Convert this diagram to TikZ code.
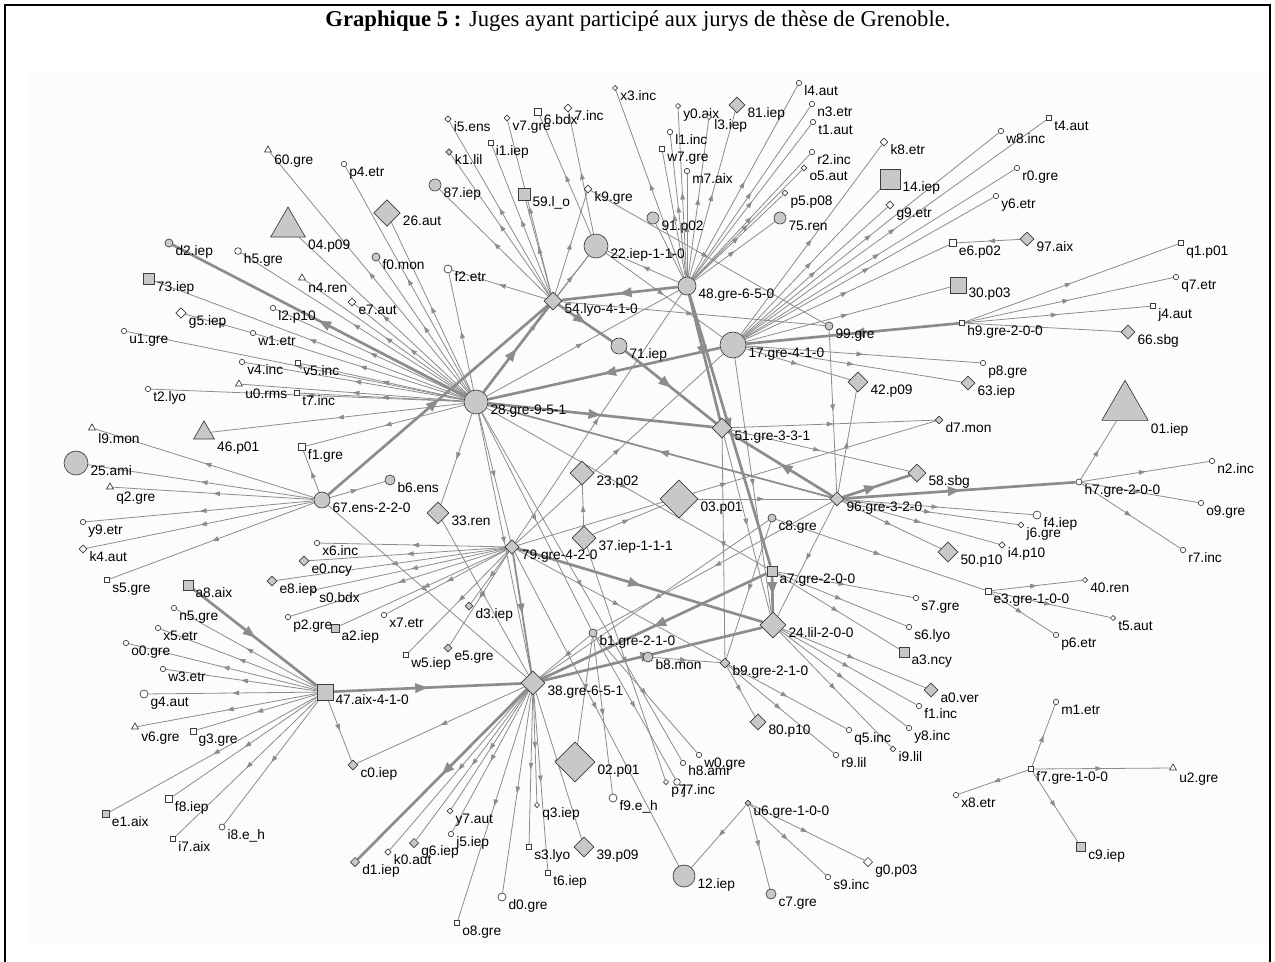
\documentclass[tikz,border=0pt]{standalone}
\usepackage{fontspec}
\setmainfont{Liberation Serif}
\setsansfont{Liberation Sans}
\usetikzlibrary{shapes.geometric,arrows.meta,decorations.markings}
\definecolor{ng}{RGB}{200,200,200}
\definecolor{ol}{RGB}{60,60,60}
\definecolor{ec}{RGB}{140,140,140}
\pgfdeclarelayer{back}
\pgfdeclarelayer{bg}
\pgfsetlayers{back,bg,main}

\begin{document}
\begin{tikzpicture}[x=0.75pt,y=-0.75pt,
  mk/.style={draw=ol,line width=0.5pt,inner sep=0pt,minimum size=#1},
  gc/.style={mk=#1,circle,fill=ng}, wc/.style={mk=#1,circle,fill=white},
  gd/.style={mk=#1,diamond,fill=ng}, wd/.style={mk=#1,diamond,fill=white},
  gs/.style={mk=#1,rectangle,fill=ng}, ws/.style={mk=#1,rectangle,fill=white},
  gt/.style={mk=#1,regular polygon,regular polygon sides=3,fill=ng},
  wt/.style={mk=#1,regular polygon,regular polygon sides=3,fill=white},
  lab/.style={font=\sffamily\fontsize{10.3}{12}\selectfont,inner sep=0pt,anchor=north west,xshift=1.5pt,yshift=-2pt},
  ed/.style={draw=ec,line width=0.6pt,postaction={decorate},
    decoration={markings,mark=at position 0.5 with {\arrow[ec]{Triangle[length=5pt,width=3.5pt]}}}},
  edt/.style={ed,line width=2pt,
    decoration={markings,mark=at position 0.5 with {\arrow[ec]{Triangle[length=9pt,width=7pt]}}}},
  edm/.style={ed,line width=1.3pt,
    decoration={markings,mark=at position 0.5 with {\arrow[ec]{Triangle[length=7pt,width=5pt]}}}}]
\clip (0,0) rectangle (1275,961);
\begin{pgfonlayer}{back}
\fill[white] (0,0) rectangle (1275,961);
\fill[black!1] (28,72) rectangle (1267,943);
\draw[line width=1.5pt] (5,5) rectangle (1270,990);
\end{pgfonlayer}
\node[font=\fontsize{17}{20}\selectfont] (titre) at (638,21) {\textbf{Graphique 5 :} Juges ayant participé aux jurys de thèse de Grenoble.};

% juges
\node[wt=6pt,label={[lab]-30:60.gre}] (j60) at (268,150) {};
\node[gt=30pt,label={[lab]-30:04.p09}] (j04) at (288,227) {};
\node[gc=6pt,label={[lab]east:d2.iep}] (jd2) at (169,243) {};
\node[wc=5pt,label={[lab]east:h5.gre}] (jh5) at (238,251) {};
\node[wt=6pt,label={[lab]-30:n4.ren}] (jn4) at (302,278) {};
\node[gs=8pt,label={[lab]east:73.iep}] (j73) at (149,279) {};
\node[wc=4pt,label={[lab]east:l2.p10}] (jl2) at (273,308) {};
\node[wd=8pt,label={[lab]east:g5.iep}] (jg5) at (181,313) {};
\node[wc=4pt,label={[lab]east:w1.etr}] (jw1) at (253,333) {};
\node[wc=4pt,label={[lab]east:u1.gre}] (ju1) at (124,331) {};
\node[wc=4pt,label={[lab]east:p4.etr}] (jp4) at (344,164) {};
\node[gd=20pt,label={[lab]east:26.aut}] (j26) at (387,213) {};
\node[gc=6pt,label={[lab]east:f0.mon}] (jf0) at (376,257) {};
\node[wd=6pt,label={[lab]east:e7.aut}] (je7) at (352,302) {};
\node[gc=9pt,label={[lab]east:87.iep}] (j87) at (435,185) {};
\node[wd=5pt,label={[lab]east:i5.ens}] (ji5) at (448,119) {};
\node[gd=5pt,label={[lab]east:k1.lil}] (jk1) at (449,152) {};
\node[ws=3.5pt,label={[lab]east:i1.iep}] (ji1) at (491,143) {};
\node[wd=4.5pt,label={[lab]east:v7.gre}] (jv7) at (507,118) {};
\node[ws=5pt,label={[lab]east:6.bdx}] (j6) at (538,112) {};
\node[wd=6pt,label={[lab]east:7.inc}] (j7) at (568,108) {};
\node[wd=4pt,label={[lab]east:x3.inc}] (jx3) at (615,88) {};
\node[gs=9pt,label={[lab]east:59.l\_o}] (j59) at (524,194) {};
\node[wd=6pt,label={[lab]east:k9.gre}] (jk9) at (588,189) {};
\node[wc=6pt,label={[lab]east:f2.etr}] (jf2) at (448,269) {};
\node[gc=18pt,label={[lab]east:22.iep-1-1-0}] (j22) at (596,246) {};
\node[gd=13.5pt,label={[lab]east:54.lyo-4-1-0}] (j54) at (553,301) {};
\node[gc=12pt,label={[lab]east:71.iep}] (j71) at (619,346) {};
\node[gc=9pt,label={[lab]east:91.p02}] (j91) at (653,218) {};
\node[wd=4pt,label={[lab]east:y0.aix}] (jy0) at (678,106) {};
\node[wd=4pt,label={[lab]east:l3.iep}] (jl3) at (709,117) {};
\node[gd=12pt,label={[lab]east:81.iep}] (j81) at (737,105) {};
\node[wc=4pt,label={[lab]east:l4.aut}] (jl4) at (799,83) {};
\node[wc=4pt,label={[lab]east:n3.etr}] (jn3) at (812,104) {};
\node[wc=4pt,label={[lab]east:t1.aut}] (jt1) at (813,122) {};
\node[wc=4pt,label={[lab]east:l1.inc}] (jl1) at (670,132) {};
\node[ws=4pt,label={[lab]east:w7.gre}] (jw7) at (662,149) {};
\node[wc=4pt,label={[lab]east:m7.aix}] (jm7) at (687,171) {};
\node[wc=4pt,label={[lab]east:r2.inc}] (jr2) at (812,152) {};
\node[wd=4.5pt,label={[lab]east:o5.aut}] (jo5) at (804,168) {};
\node[wd=4.5pt,label={[lab]east:p5.p08}] (jp5) at (785,193) {};
\node[gc=9pt,label={[lab]east:75.ren}] (j75) at (780,218) {};
\node[wd=6pt,label={[lab]east:k8.etr}] (jk8) at (884,142) {};
\node[gs=15pt,label={[lab]east:14.iep}] (j14) at (890,179) {};
\node[wd=6pt,label={[lab]east:g9.etr}] (jg9) at (890,205) {};
\node[gc=13.5pt,label={[lab]east:48.gre-6-5-0}] (j48) at (687,286) {};
\node[gc=6pt,label={[lab]east:99.gre}] (j99) at (829,326) {};
\node[gc=19.5pt,label={[lab]east:17.gre-4-1-0}] (j17) at (733,345) {};
\node[ws=5pt,label={[lab]east:e6.p02}] (je6) at (953,243) {};
\node[gs=12pt,label={[lab]east:30.p03}] (j30) at (958,285) {};
\node[ws=4pt,label={[lab]east:h9.gre-2-0-0}] (jh9) at (962,323) {};
\node[ws=4pt,label={[lab]east:t4.aut}] (jt4) at (1049,118) {};
\node[wc=4pt,label={[lab]east:w8.inc}] (jw8) at (1001,131) {};
\node[wc=4pt,label={[lab]east:r0.gre}] (jr0) at (1017,168) {};
\node[wc=4pt,label={[lab]east:y6.etr}] (jy6) at (996,196) {};
\node[gd=10.5pt,label={[lab]east:97.aix}] (j97) at (1027,239) {};
\node[ws=4pt,label={[lab]east:q1.p01}] (jq1) at (1181,243) {};
\node[wc=4pt,label={[lab]east:q7.etr}] (jq7) at (1176,277) {};
\node[ws=4pt,label={[lab]east:j4.aut}] (jj4) at (1153,306) {};
\node[gd=10.5pt,label={[lab]east:66.sbg}] (j66) at (1128,332) {};
\node[wc=4pt,label={[lab]east:p8.gre}] (jp8) at (983,363) {};
\node[gd=10.5pt,label={[lab]east:63.iep}] (j63) at (968,383) {};
\node[gd=15pt,label={[lab]east:42.p09}] (j42) at (858,382) {};
\node[gd=6pt,label={[lab]east:d7.mon}] (jd7) at (939,420) {};
\node[gt=40pt,label={[lab]-30:01.iep}] (j01) at (1125,407) {};
\node[gd=15pt,label={[lab]east:51.gre-3-3-1}] (j51) at (722,428) {};
\node[gd=13.5pt,label={[lab]east:58.sbg}] (j58) at (917,473) {};
\node[gd=10.5pt,label={[lab]east:96.gre-3-2-0}] (j96) at (837,499) {};
\node[gd=28.5pt,label={[lab]east:03.p01}] (j03) at (679,499) {};
\node[wc=4.5pt,label={[lab]east:h7.gre-2-0-0}] (jh7) at (1079,482) {};
\node[wc=4pt,label={[lab]east:n2.inc}] (jn2) at (1212,461) {};
\node[wc=4pt,label={[lab]east:o9.gre}] (jo9) at (1201,503) {};
\node[wc=4pt,label={[lab]east:r7.inc}] (jr7) at (1183,550) {};
\node[wc=6pt,label={[lab]east:f4.iep}] (jf4) at (1037,515) {};
\node[wd=4.5pt,label={[lab]east:j6.gre}] (jj6) at (1021,525) {};
\node[wd=5pt,label={[lab]east:i4.p10}] (ji4) at (1002,545) {};
\node[gd=15pt,label={[lab]east:50.p10}] (j50) at (948,552) {};
\node[gc=6pt,label={[lab]east:c8.gre}] (jc8) at (772,518) {};
\node[wd=4pt,label={[lab]east:40.ren}] (j40) at (1085,580) {};
\node[ws=4.5pt,label={[lab]east:e3.gre-1-0-0}] (je3) at (988,591) {};
\node[wd=4pt,label={[lab]east:t5.aut}] (jt5) at (1113,618) {};
\node[wc=4pt,label={[lab]east:p6.etr}] (jp6) at (1056,635) {};
\node[gs=7.5pt,label={[lab]east:a7.gre-2-0-0}] (ja7) at (772,571) {};
\node[gd=19.5pt,label={[lab]east:24.lil-2-0-0}] (j24) at (773,625) {};
\node[wc=4pt,label={[lab]east:s7.gre}] (js7) at (916,598) {};
\node[wc=4pt,label={[lab]east:s6.lyo}] (js6) at (909,627) {};
\node[gs=7.5pt,label={[lab]east:a3.ncy}] (ja3) at (904,652) {};
\node[gd=10.5pt,label={[lab]east:a0.ver}] (ja0) at (931,690) {};
\node[wc=4pt,label={[lab]east:f1.inc}] (jf1i) at (919,706) {};
\node[wc=4pt,label={[lab]east:y8.inc}] (jy8) at (909,728) {};
\node[wd=4.5pt,label={[lab]east:i9.lil}] (ji9) at (893,749) {};
\node[wc=4pt,label={[lab]east:q5.inc}] (jq5) at (849,730) {};
\node[wc=4pt,label={[lab]east:r9.lil}] (jr9) at (836,755) {};
\node[gd=12pt,label={[lab]east:80.p10}] (j80) at (758,722) {};
\node[gd=7.5pt,label={[lab]east:b9.gre-2-1-0}] (jb9) at (725,663) {};
\node[gc=7.5pt,label={[lab]east:b8.mon}] (jb8) at (648,657) {};
\node[gc=6pt,label={[lab]east:b1.gre-2-1-0}] (jb1) at (593,633) {};
\node[wc=4pt,label={[lab]east:w0.gre}] (jw0) at (699,755) {};
\node[wc=4pt,label={[lab]east:h8.ami}] (jh8) at (683,763) {};
\node[wd=4pt,label={[lab]east:p7}] (jp7) at (666,782) {};
\node[wc=5pt,label={[lab]east:j7.inc}] (jj7) at (677,782) {};
\node[wc=6pt,label={[lab]east:f9.e\_h}] (jf9) at (613,798) {};
\node[gd=4.5pt,label={[lab]east:u6.gre-1-0-0}] (ju6) at (748,803) {};
\node[gc=16.5pt,label={[lab]east:12.iep}] (j12) at (684,876) {};
\node[gc=7.5pt,label={[lab]east:c7.gre}] (jc7) at (771,894) {};
\node[wc=4pt,label={[lab]east:s9.inc}] (js9) at (828,877) {};
\node[wd=7pt,label={[lab]east:g0.p03}] (jg0) at (868,862) {};
\node[wc=4pt,label={[lab]east:m1.etr}] (jm1) at (1056,702) {};
\node[ws=4pt,label={[lab]east:f7.gre-1-0-0}] (jf7) at (1031,769) {};
\node[wt=6pt,label={[lab]-30:u2.gre}] (ju2) at (1173,768) {};
\node[wc=4pt,label={[lab]east:x8.etr}] (jx8) at (956,795) {};
\node[gs=7pt,label={[lab]east:c9.iep}] (jc9) at (1081,847) {};
\node[gd=18pt,label={[lab]east:38.gre-6-5-1}] (j38) at (533,683) {};
\node[gs=12pt,label={[lab]east:47.aix-4-1-0}] (j47) at (325,692) {};
\node[gd=30pt,label={[lab]east:02.p01}] (j02) at (575,762) {};
\node[gd=15pt,label={[lab]east:39.p09}] (j39) at (584,847) {};
\node[wd=4pt,label={[lab]east:q3.iep}] (jq3) at (537,805) {};
\node[ws=4pt,label={[lab]east:s3.lyo}] (js3) at (529,847) {};
\node[ws=4pt,label={[lab]east:t6.iep}] (jt6) at (548,873) {};
\node[wc=6pt,label={[lab]east:d0.gre}] (jd0) at (502,897) {};
\node[ws=4pt,label={[lab]east:o8.gre}] (jo8) at (457,923) {};
\node[wd=4.5pt,label={[lab]east:y7.aut}] (jy7) at (450,811) {};
\node[wc=4pt,label={[lab]east:j5.iep}] (jj5) at (451,834) {};
\node[gd=7pt,label={[lab]east:g6.iep}] (jg6) at (414,843) {};
\node[wd=5pt,label={[lab]east:k0.aut}] (jk0) at (388,852) {};
\node[gd=7pt,label={[lab]east:d1.iep}] (jd1) at (355,862) {};
\node[gd=7.5pt,label={[lab]east:c0.iep}] (jc0) at (353,765) {};
\node[ws=4pt,label={[lab]east:w5.iep}] (jw5) at (406,655) {};
\node[gd=6pt,label={[lab]east:e5.gre}] (je5) at (448,648) {};
\node[gd=6pt,label={[lab]east:d3.iep}] (jd3) at (469,606) {};
\node[gd=11pt,label={[lab]east:79.gre-4-2-0}] (j79) at (512,547) {};
\node[gd=18pt,label={[lab]east:37.iep-1-1-1}] (j37) at (584,538) {};
\node[gd=18pt,label={[lab]east:23.p02}] (j23) at (582,473) {};
\node[gd=16.5pt,label={[lab]east:33.ren}] (j33) at (438,513) {};
\node[wc=4pt,label={[lab]east:x7.etr}] (jx7) at (384,615) {};
\node[gs=6pt,label={[lab]east:a2.iep}] (ja2) at (335,628) {};
\node[wc=4pt,label={[lab]east:p2.gre}] (jp2) at (288,617) {};
\node[wd=4pt,label={[lab]east:s0.bdx}] (js0) at (314,590) {};
\node[gd=7.5pt,label={[lab]east:e8.iep}] (je8) at (272,581) {};
\node[gd=7.5pt,label={[lab]east:e0.ncy}] (je0) at (304,561) {};
\node[wc=4pt,label={[lab]east:x6.inc}] (jx6) at (317,543) {};
\node[gc=7.5pt,label={[lab]east:b6.ens}] (jb6) at (390,480) {};
\node[gc=12pt,label={[lab]east:67.ens-2-2-0}] (j67) at (322,500) {};
\node[ws=5pt,label={[lab]east:f1.gre}] (jf1) at (302,447) {};
\node[gt=18pt,label={[lab]-30:46.p01}] (j46) at (204,433) {};
\node[ws=4pt,label={[lab]east:t7.inc}] (jt7) at (297,393) {};
\node[wt=6pt,label={[lab]-30:u0.rms}] (ju0) at (239,384) {};
\node[wc=4pt,label={[lab]east:t2.lyo}] (jt2) at (148,389) {};
\node[wc=4pt,label={[lab]east:v4.inc}] (jv4) at (242,362) {};
\node[ws=4pt,label={[lab]east:v5.inc}] (jv5) at (298,363) {};
\node[wt=6pt,label={[lab]-30:l9.mon}] (jl9) at (92,428) {};
\node[gc=18pt,label={[lab]east:25.ami}] (j25) at (76,463) {};
\node[wt=6pt,label={[lab]-30:q2.gre}] (jq2) at (110,487) {};
\node[wc=4pt,label={[lab]east:y9.etr}] (jy9) at (83,522) {};
\node[wd=6pt,label={[lab]east:k4.aut}] (jk4) at (83,549) {};
\node[ws=4pt,label={[lab]east:s5.gre}] (js5) at (107,580) {};
\node[gs=7.5pt,label={[lab]east:a8.aix}] (ja8) at (188,585) {};
\node[wc=4pt,label={[lab]east:n5.gre}] (jn5) at (174,608) {};
\node[wc=4pt,label={[lab]east:x5.etr}] (jx5) at (158,628) {};
\node[wc=4pt,label={[lab]east:o0.gre}] (jo0) at (126,643) {};
\node[wc=4pt,label={[lab]east:w3.etr}] (jw3) at (163,669) {};
\node[wc=6pt,label={[lab]east:g4.aut}] (jg4) at (144,694) {};
\node[wt=6pt,label={[lab]-30:v6.gre}] (jv6) at (135,727) {};
\node[ws=4.5pt,label={[lab]east:g3.gre}] (jg3) at (193,731) {};
\node[ws=5pt,label={[lab]east:f8.iep}] (jf8) at (169,799) {};
\node[gs=5pt,label={[lab]east:e1.aix}] (je1) at (106,814) {};
\node[ws=4pt,label={[lab]east:i7.aix}] (ji7) at (173,839) {};
\node[wc=4.5pt,label={[lab]east:i8.e\_h}] (ji8) at (222,827) {};
\node[gc=18pt,label={[lab]east:28.gre-9-5-1}] (j28) at (476,402) {};

\begin{pgfonlayer}{bg}
% 28
\draw[ed] (j28) -- (j60);
\draw[ed] (j28) -- (j04);
\draw[edt] (j28) -- (jd2);
\draw[ed] (j28) -- (jh5);
\draw[ed] (j28) -- (jn4);
\draw[ed] (j28) -- (j73);
\draw[ed] (j28) -- (jl2);
\draw[ed] (j28) -- (jw1);
\draw[ed] (jw1) -- (jg5);
\draw[ed] (j28) -- (ju1);
\draw[ed] (j28) -- (jv4);
\draw[ed] (j28) -- (jv5);
\draw[ed] (j28) -- (ju0);
\draw[ed] (j28) -- (jt2);
\draw[ed] (j28) -- (jt7);
\draw[ed] (j28) -- (j46);
\draw[ed] (j28) -- (jf1);
\draw[ed] (j28) -- (je7);
\draw[ed] (j28) -- (jf0);
\draw[ed] (j28) -- (j26);
\draw[ed] (j28) -- (jp4);
\draw[ed] (j28) -- (jf2);
\draw[ed] (j28) -- (j33);
\draw[ed] (j28) -- (j79);
\draw[ed] (j28) -- (jb1);
\draw[ed] (j28) -- (j38);
\draw[ed] (j28) -- (ja7);
\draw[ed] (j28) -- (jh8);
\draw[ed] (j28) -- (j22);
\draw[ed] (j28) -- (j48);
\draw[edt] (j28) -- (j54);
\draw[edt] (j28) -- (j51);
\draw[edt] (j17) -- (j28);
\draw[edm] (j96) -- (j28);
% 67
\draw[ed] (j67) -- (jl9);
\draw[ed] (j67) -- (j25);
\draw[ed] (j67) -- (jq2);
\draw[ed] (j67) -- (jy9);
\draw[ed] (j67) -- (jk4);
\draw[ed] (j67) -- (js5);
\draw[ed] (j67) -- (jf1);
\draw[ed] (j67) -- (jb6);
\draw[edt] (j67) -- (j54);
\draw[ed] (j67) -- (j38);
% 54 et 22
\draw[ed] (j54) -- (j87);
\draw[ed] (j54) -- (ji5);
\draw[ed] (j54) -- (jk1);
\draw[ed] (j54) -- (ji1);
\draw[ed] (j54) -- (j59);
\draw[ed] (j54) -- (jv7);
\draw[ed] (j54) -- (jk9);
\draw[ed] (j54) -- (jf2);
\draw[ed] (j54) -- (j22);
\draw[edt] (j54) -- (j71);
\draw[edt] (j48) -- (j54);
\draw[ed] (j54) -- (j99);
\draw[ed] (j22) -- (j6);
\draw[ed] (j22) -- (j7);
\draw[ed] (j48) -- (j22);
\draw[ed] (j22) -- (j17);
% 48
\draw[ed] (j48) -- (jy0);
\draw[ed] (j48) -- (jl1);
\draw[ed] (j48) -- (jw7);
\draw[ed] (j48) -- (jm7);
\draw[ed] (j48) -- (jl3);
\draw[ed] (j48) -- (j81);
\draw[ed] (j48) -- (jl4);
\draw[ed] (j48) -- (jn3);
\draw[ed] (j48) -- (jt1);
\draw[ed] (j48) -- (jr2);
\draw[ed] (j48) -- (jo5);
\draw[ed] (j48) -- (jp5);
\draw[ed] (j48) -- (j75);
\draw[ed] (j48) -- (j91);
\draw[ed] (j48) -- (jx3);
\draw[edt] (j48) -- (j51);
\draw[edt] (j48) -- (ja7);
% 17
\draw[ed] (j17) -- (jk8);
\draw[ed] (j17) -- (j14);
\draw[ed] (j17) -- (jg9);
\draw[ed] (j17) -- (jw8);
\draw[ed] (j17) -- (jt4);
\draw[ed] (j17) -- (jr0);
\draw[ed] (j17) -- (jy6);
\draw[ed] (j17) -- (je6);
\draw[ed] (j17) -- (j30);
\draw[ed] (j17) -- (jp8);
\draw[ed] (j17) -- (j63);
\draw[ed] (j17) -- (j42);
\draw[ed] (j17) -- (j24);
\draw[edt] (jh9) -- (j17);
\draw[ed] (j97) -- (je6);
\draw[ed] (jk9) -- (j99);
\draw[ed] (j99) -- (j96);
% h9
\draw[ed] (jh9) -- (jq1);
\draw[ed] (jh9) -- (jq7);
\draw[ed] (jh9) -- (jj4);
\draw[ed] (jh9) -- (j66);
% 51
\draw[edt] (j71) -- (j51);
\draw[edt] (j96) -- (j51);
\draw[ed] (j51) -- (jd7);
\draw[ed] (j51) -- (j58);
\draw[ed] (j51) -- (jb9);
\draw[ed] (j51) -- (j24);
% 96
\draw[edt] (j96) -- (j58);
\draw[edt] (j96) -- (jh7);
\draw[ed] (j96) -- (jf4);
\draw[ed] (j96) -- (jj6);
\draw[ed] (j96) -- (ji4);
\draw[ed] (j96) -- (j50);
\draw[ed] (j96) -- (j42);
\draw[ed] (j03) -- (j96);
\draw[ed] (j96) -- (j24);
\draw[ed] (j96) -- (jb1);
\draw[ed] (jh7) -- (j01);
\draw[ed] (jh7) -- (jn2);
\draw[ed] (jh7) -- (jo9);
\draw[ed] (jh7) -- (jr7);
% c8, e3
\draw[ed] (jc8) -- (je3);
\draw[ed] (jc8) -- (j38);
\draw[ed] (jc8) -- (jb9);
\draw[ed] (je3) -- (j40);
\draw[ed] (je3) -- (jt5);
\draw[ed] (je3) -- (jp6);
% a7, 24
\draw[ed] (ja7) -- (js7);
\draw[ed] (ja7) -- (js6);
\draw[ed] (ja7) -- (ja3);
\draw[edt] (ja7) -- (j24);
\draw[edt] (ja7) -- (j38);
\draw[ed] (j24) -- (ja0);
\draw[ed] (j24) -- (jf1i);
\draw[ed] (j24) -- (jy8);
\draw[ed] (j24) -- (ji9);
\draw[edt] (j38) -- (j24);
\draw[edt] (j79) -- (j24);
% b9, b1
\draw[ed] (jb9) -- (j80);
\draw[ed] (jb9) -- (jr9);
\draw[ed] (jb9) -- (jq5);
\draw[ed] (jb8) -- (jb9);
\draw[ed] (j79) -- (jb9);
\draw[ed] (jb1) -- (jw0);
\draw[ed] (jb1) -- (jj7);
\draw[ed] (jb1) -- (jf9);
\draw[ed] (jb1) -- (j02);
\draw[ed] (jb1) -- (j38);
\draw[ed] (j37) -- (jp7);
\draw[ed] (j37) -- (j23);
\draw[ed] (j37) -- (j03);
% 79
\draw[ed] (j79) -- (jx6);
\draw[ed] (j79) -- (je0);
\draw[ed] (j79) -- (je8);
\draw[ed] (j79) -- (js0);
\draw[ed] (j79) -- (jp2);
\draw[ed] (j79) -- (ja2);
\draw[ed] (j79) -- (jx7);
\draw[ed] (j79) -- (jd3);
\draw[ed] (j79) -- (je5);
\draw[ed] (j79) -- (jw5);
\draw[edm] (j79) -- (j38);
\draw[ed] (j79) -- (j48);
\draw[ed] (j79) -- (j17);
\draw[ed] (j79) -- (jd7);
\draw[ed] (j79) -- (j12);
% 38
\draw[edt] (j47) -- (j38);
\draw[ed] (j38) -- (jc0);
\draw[edt] (j38) -- (jd1);
\draw[ed] (j38) -- (jk0);
\draw[ed] (j38) -- (jg6);
\draw[ed] (j38) -- (jy7);
\draw[ed] (j38) -- (jj5);
\draw[ed] (j38) -- (jo8);
\draw[ed] (j38) -- (jd0);
\draw[ed] (j38) -- (js3);
\draw[ed] (j38) -- (jq3);
\draw[ed] (j38) -- (jt6);
\draw[ed] (j38) -- (j39);
\draw[ed] (j33) -- (j38);
% 47
\draw[edt] (ja8) -- (j47);
\draw[ed] (j47) -- (jn5);
\draw[ed] (j47) -- (jx5);
\draw[ed] (j47) -- (jo0);
\draw[ed] (j47) -- (jw3);
\draw[ed] (j47) -- (jg4);
\draw[ed] (j47) -- (jv6);
\draw[ed] (j47) -- (jg3);
\draw[ed] (j47) -- (je1);
\draw[ed] (j47) -- (jf8);
\draw[ed] (j47) -- (ji7);
\draw[ed] (j47) -- (ji8);
\draw[ed] (j47) -- (jc0);
% u6, f7
\draw[ed] (ju6) -- (j12);
\draw[ed] (ju6) -- (jc7);
\draw[ed] (ju6) -- (js9);
\draw[ed] (ju6) -- (jg0);
\draw[ed] (jf7) -- (jm1);
\draw[ed] (jf7) -- (ju2);
\draw[ed] (jf7) -- (jc9);
\draw[ed] (jf7) -- (jx8);
\end{pgfonlayer}
\end{tikzpicture}
\end{document}
